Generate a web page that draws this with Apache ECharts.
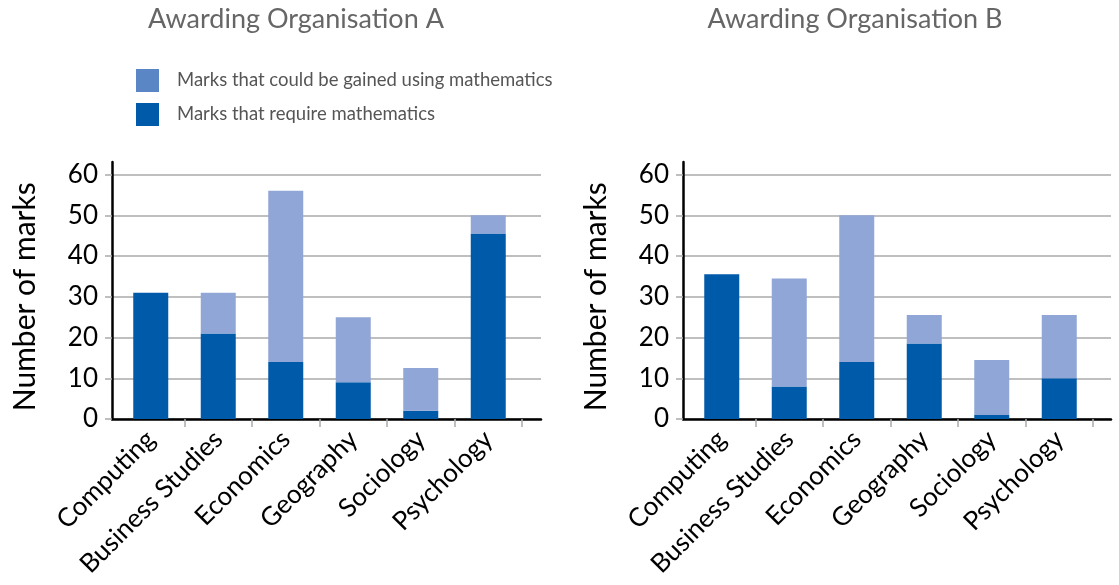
<!DOCTYPE html>
<html><head><meta charset="utf-8">
<script src="https://cdn.jsdelivr.net/npm/echarts@6/dist/echarts.min.js"></script>
<style>html,body{margin:0;padding:0;background:#fff}#c{width:1119px;height:585px}</style>
</head><body><div id="c"></div>
<script>
const categories = ['Computing', 'Business Studies', 'Economics', 'Geography', 'Sociology', 'Psychology'];
const requireA = [31, 21, 14, 9, 2, 45.5];
const couldA   = [0, 10, 42, 16, 10.5, 4.5];
const requireB = [35.5, 8, 14, 18.5, 1, 10];
const couldB   = [0, 26.5, 36, 7, 13.5, 15.5];
const titles = ['Awarding Organisation A', 'Awarding Organisation B'];
const seriesNames = ['Marks that could be gained using mathematics', 'Marks that require mathematics'];
const yAxisName = 'Number of marks';
const yMin = 0, yMax = 60, yInterval = 10;

const FONT = 'Lato';
const DARK = '#005AAA', LIGHT = '#90A6D6', LEGEND_LIGHT = '#5B86C6';
const chart = echarts.init(document.getElementById('c'));

const panels = [
  {frameL: 112, frameR: 1119 - 541, barsL: 117, barsR: 1119 - 522, req: requireA, could: couldA, titleX: 291},
  {frameL: 683, frameR: 1119 - 1111, barsL: 688, barsR: 1119 - 1093, req: requireB, could: couldB, titleX: 850}
];
const bottom = 585 - 419;
const top60 = 174.5;
const topFrame = 162;

const grid = [], xAxis = [], yAxis = [], series = [], title = [];
panels.forEach((p, k) => {
  const g0 = grid.length;
  grid.push({left: p.frameL, right: p.frameR, top: topFrame, bottom: bottom});
  grid.push({left: p.frameL, right: p.frameR, top: top60, bottom: bottom});
  grid.push({left: p.barsL, right: p.barsR, top: top60, bottom: bottom});
  // frame: axis lines
  xAxis.push({gridIndex: g0, type: 'value', min: 0, max: 1, axisLine: {show: true, onZero: false, lineStyle: {color: '#000', width: 2.5}}, axisTick: {show: false}, axisLabel: {show: false}, splitLine: {show: false}});
  yAxis.push({gridIndex: g0, type: 'value', min: 0, max: yMax * (585 - bottom - topFrame) / (585 - bottom - top60), axisLine: {show: true, lineStyle: {color: '#000', width: 2.5}}, axisTick: {show: false}, axisLabel: {show: false}, splitLine: {show: false}});
  // labels + gridlines
  xAxis.push({gridIndex: g0 + 1, type: 'value', min: 0, max: 1, show: false});
  yAxis.push({gridIndex: g0 + 1, type: 'value', min: yMin, max: yMax, interval: yInterval,
    axisLine: {show: false}, axisTick: {show: true, length: 7, lineStyle: {color: '#aaaaaa', width: 1.5}},
    axisLabel: {color: '#000', fontFamily: FONT, fontSize: 26, margin: 14},
    splitLine: {show: true, lineStyle: {color: '#aaaaaa', width: 1.5}},
    name: yAxisName, nameLocation: 'middle', nameGap: 72, nameRotate: 90,
    nameTextStyle: {color: '#000', fontFamily: FONT, fontSize: 30}});
  // bars
  xAxis.push({gridIndex: g0 + 2, type: 'category', data: categories,
    axisLine: {show: false},
    axisTick: {show: true, length: 8, interval: (i) => i !== 0, lineStyle: {color: '#aaaaaa', width: 1.5}},
    axisLabel: {rotate: 45, interval: 0, color: '#000', fontFamily: FONT, fontSize: 26, margin: 16}});
  yAxis.push({gridIndex: g0 + 2, type: 'value', min: yMin, max: yMax, show: false});
  series.push({type: 'bar', name: seriesNames[1], xAxisIndex: g0 + 2, yAxisIndex: g0 + 2, stack: 's' + k, data: p.req, barWidth: 35, itemStyle: {color: DARK}});
  series.push({type: 'bar', name: seriesNames[0], xAxisIndex: g0 + 2, yAxisIndex: g0 + 2, stack: 's' + k, data: p.could, barWidth: 35, itemStyle: {color: LIGHT}});
  title.push({text: titles[k], left: p.titleX, top: 1, textAlign: 'center', textStyle: {color: '#666', fontFamily: FONT, fontSize: 27, fontWeight: 'normal'}});
});

chart.setOption({
  animation: false,
  title: title,
  legend: {
    orient: 'vertical', left: 131, top: 64, itemWidth: 23, itemHeight: 23, itemGap: 11, icon: 'rect',
    textStyle: {color: '#555', fontFamily: FONT, fontSize: 18.5, padding: [0, 0, 0, 13]},
    data: [
      {name: seriesNames[0], itemStyle: {color: LEGEND_LIGHT}},
      {name: seriesNames[1], itemStyle: {color: DARK}}
    ]
  },
  grid: grid, xAxis: xAxis, yAxis: yAxis, series: series
});
</script></body></html>
